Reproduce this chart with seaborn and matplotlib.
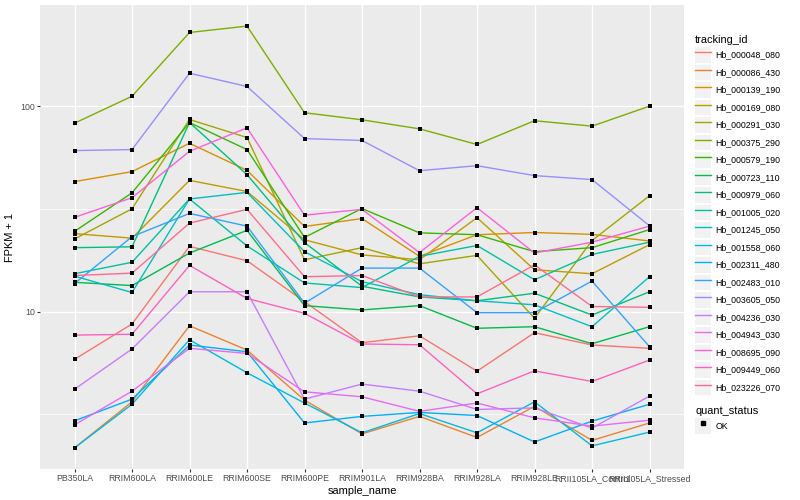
import numpy as np
import pandas as pd
import matplotlib
matplotlib.use("Agg")
import matplotlib.pyplot as plt
import seaborn as sns
from matplotlib.lines import Line2D
from matplotlib.legend_handler import HandlerLine2D
from matplotlib.patches import Rectangle
from matplotlib.ticker import FixedLocator, NullFormatter

samples = ["PB350LA", "RRIM600LA", "RRIM600LE", "RRIM600SE", "RRIM600PE", "RRIM901LA",
           "RRIM928BA", "RRIM928LA", "RRIM928LE", "RRII105LA_Control", "RRII105LA_Stressed"]

tracking_ids = ["Hb_000048_080", "Hb_000086_430", "Hb_000139_190", "Hb_000169_080",
                "Hb_000291_030", "Hb_000375_290", "Hb_000579_190", "Hb_000723_110",
                "Hb_000979_060", "Hb_001005_020", "Hb_001245_050", "Hb_001558_060",
                "Hb_002311_480", "Hb_002483_010", "Hb_003605_050", "Hb_004236_030",
                "Hb_004943_030", "Hb_008695_090", "Hb_009449_060", "Hb_023226_070"]

colors = ["#F8766D", "#EA8331", "#D89000", "#C09B00", "#A3A500", "#7CAE00", "#39B600",
          "#00BB4E", "#00BF7D", "#00C1A3", "#00BFC4", "#00BAE0", "#00B0F6", "#35A2FF",
          "#9590FF", "#C77CFF", "#E76BF3", "#FA62DB", "#FF62BC", "#FF6C90"]

# FPKM + 1 per sample (order of `samples`)
hb_000048_080 = [5.86, 8.71, 20.8, 17.7, 11.2, 7.06, 7.63, 5.13, 7.90, 6.88, 6.63]
hb_000086_430 = [2.17, 3.64, 8.54, 6.50, 3.71, 2.54, 3.09, 2.44, 3.46, 2.36, 2.87]
hb_000139_190 = [43.0, 48.1, 66.1, 48.8, 26.0, 28.4, 18.6, 23.7, 24.3, 23.8, 22.1]
hb_000169_080 = [24.0, 22.8, 43.6, 38.5, 22.4, 18.9, 17.9, 28.7, 16.0, 15.3, 21.2]
hb_000291_030 = [22.6, 31.7, 86.3, 70.5, 17.9, 20.5, 17.1, 18.8, 9.29, 22.2, 36.7]
hb_000375_290 = [82.8, 112.0, 229.0, 246.0, 93.1, 86.0, 77.7, 65.2, 85.1, 80.1, 100.2]
hb_000579_190 = [24.6, 37.9, 83.4, 61.6, 23.0, 31.8, 24.2, 23.7, 19.6, 20.5, 25.1]
hb_000723_110 = [13.9, 13.4, 19.3, 24.9, 10.7, 10.2, 10.7, 8.30, 8.45, 6.98, 8.45]
hb_000979_060 = [20.5, 20.7, 83.4, 46.5, 21.7, 13.3, 11.8, 11.3, 12.3, 9.63, 12.5]
hb_001005_020 = [15.3, 17.4, 35.4, 20.9, 13.8, 13.1, 18.6, 21.0, 14.3, 19.0, 21.8]
hb_001245_050 = [14.9, 12.4, 35.4, 38.1, 19.6, 14.0, 12.1, 11.3, 10.8, 8.45, 14.8]
hb_001558_060 = [2.17, 3.54, 7.30, 5.04, 3.59, 2.57, 3.19, 2.57, 3.64, 2.22, 2.59]
hb_002311_480 = [2.94, 3.75, 6.88, 6.38, 2.87, 3.09, 3.23, 3.12, 2.32, 2.93, 3.54]
hb_002483_010 = [13.7, 23.2, 30.1, 26.1, 11.0, 16.3, 16.3, 9.89, 9.89, 14.1, 6.75]
hb_003605_050 = [60.9, 61.6, 145.0, 125.0, 69.7, 68.2, 48.6, 51.4, 46.0, 44.0, 26.2]
hb_004236_030 = [4.19, 6.58, 12.5, 12.5, 3.75, 4.44, 4.10, 3.34, 3.40, 2.71, 3.88]
hb_004943_030 = [2.81, 4.10, 6.63, 6.26, 4.07, 3.85, 3.27, 3.59, 3.04, 2.77, 2.96]
hb_008695_090 = [28.8, 35.9, 60.4, 78.6, 29.5, 31.5, 19.4, 32.1, 19.3, 21.8, 26.1]
hb_009449_060 = [7.69, 7.76, 16.8, 11.6, 9.82, 6.96, 6.90, 3.98, 5.15, 4.57, 5.81]
hb_023226_070 = [15.0, 15.4, 27.0, 31.5, 14.8, 15.0, 11.8, 11.8, 16.9, 10.6, 10.5]

series = [hb_000048_080, hb_000086_430, hb_000139_190, hb_000169_080, hb_000291_030,
          hb_000375_290, hb_000579_190, hb_000723_110, hb_000979_060, hb_001005_020,
          hb_001245_050, hb_001558_060, hb_002311_480, hb_002483_010, hb_003605_050,
          hb_004236_030, hb_004943_030, hb_008695_090, hb_009449_060, hb_023226_070]

rows = []
for tid, vals in zip(tracking_ids, series):
    for s, v in zip(samples, vals):
        rows.append({"tracking_id": tid, "sample_name": s, "fpkm": v, "quant_status": "OK"})
df = pd.DataFrame(rows)

plt.rcParams["font.family"] = ["Liberation Sans", "DejaVu Sans"]

fig = plt.figure(figsize=(8, 5), dpi=100)
ax = fig.add_axes([40 / 800, 31 / 500, 644 / 800, 464 / 500])
ax.set_facecolor("#EBEBEB")
ax.set_yscale("log")

sns.lineplot(data=df, x="sample_name", y="fpkm", hue="tracking_id", hue_order=tracking_ids,
             palette=dict(zip(tracking_ids, colors)), sort=False, estimator=None,
             linewidth=1.0, legend=False, ax=ax, zorder=2)
sns.scatterplot(data=df, x="sample_name", y="fpkm", color="black", marker="s", s=11,
                linewidth=0, legend=False, ax=ax, zorder=3)

# axes limits with ggplot-like expansion
lo, hi = np.log10(df["fpkm"].min()), np.log10(df["fpkm"].max())
pad = 0.05 * (hi - lo)
ax.set_ylim(10 ** (lo - pad), 10 ** (hi + pad))
ax.set_xlim(-0.6, len(samples) - 1 + 0.6)

ax.yaxis.set_major_locator(FixedLocator([10, 100]))
ax.set_yticklabels(["10", "100"])
ax.yaxis.set_minor_locator(FixedLocator([10 ** 0.5, 10 ** 1.5, 10 ** 2.5]))
ax.yaxis.set_minor_formatter(NullFormatter())
ax.grid(which="major", color="white", linewidth=1.0)
ax.grid(which="minor", axis="y", color="white", linewidth=0.5)
ax.set_axisbelow(True)
for sp in ax.spines.values():
    sp.set_visible(False)
ax.tick_params(which="minor", length=0)
ax.tick_params(axis="both", which="major", length=2, width=0.8, color="#333333",
               labelcolor="#4D4D4D", labelsize=6.3, pad=1.5)
ax.set_xlabel("sample_name", fontsize=7.9, labelpad=2)
ax.set_ylabel("FPKM + 1", fontsize=7.9, labelpad=4)


class KeyBg(HandlerLine2D):
    def create_artists(self, legend, orig_handle, xdescent, ydescent, width, height,
                       fontsize, trans):
        arts = super().create_artists(legend, orig_handle, xdescent, ydescent, width,
                                      height, fontsize, trans)
        r = Rectangle((-xdescent, -ydescent), width, height, facecolor="#F2F2F2",
                      edgecolor="none", transform=trans)
        return [r] + list(arts)


handles = [Line2D([], [], color=c, linewidth=1.0) for c in colors]
common = dict(loc="upper left", frameon=False, fontsize=6.3, title_fontsize=7.9,
              handlelength=1.85, handleheight=2.3, handletextpad=0.45, labelspacing=0.26,
              borderpad=0, borderaxespad=0, alignment="left",
              handler_map={Line2D: KeyBg()})
fig.legend(handles, tracking_ids, title="tracking_id",
           bbox_to_anchor=(695 / 800, 1 - 35 / 500), **common)
ok_handle = Line2D([], [], color="black", marker="s", linestyle="none", markersize=3)
fig.legend([ok_handle], ["OK"], title="quant_status",
           bbox_to_anchor=(695 / 800, 1 - 406 / 500), **common)

fig.savefig("out.png", dpi=100)
